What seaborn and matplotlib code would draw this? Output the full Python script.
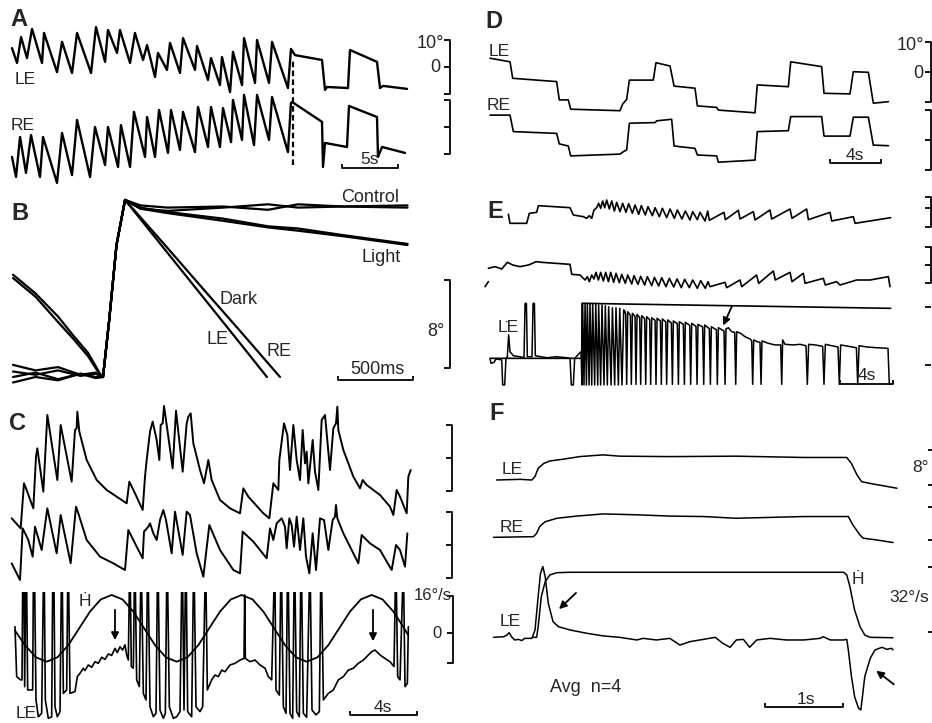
"""Nystagmus recordings, panels A-F, redrawn as line traces."""

import matplotlib
matplotlib.use("Agg")
import matplotlib.pyplot as plt
import seaborn as sns

W, H = 932, 723

# ──────────────────────────────────────────────────────────
# Data (time in s or ms, position in deg, velocity in deg/s)
# ──────────────────────────────────────────────────────────
A_LE_T = [1.07, 1.52, 1.88, 2.41, 2.86, 3.75, 3.93, 5.09, 5.54, 6.43, 6.88, 8.13, 8.57, 9.38, 9.64,
          10.45, 10.71, 11.61, 12.05, 12.77, 13.13, 13.84, 14.11, 14.91, 15.18, 16.07, 16.34, 17.41,
          17.59, 18.57, 18.84, 19.64, 19.82, 20.54, 20.80, 21.61, 21.79, 22.77, 22.95, 24.02, 24.29,
          25.71, 25.98, 26.34, 28.75, 29.02, 29.20, 31.07, 31.25, 33.66, 33.93, 34.20, 36.34]
A_LE = [7.0, 1.5, 11.1, 3.3, 14.1, 1.5, 12.6, -1.9, 9.3, -2.2, 12.6, -2.2, 14.8, 1.9, 13.7, 5.2,
        13.7, 1.5, 12.6, 2.6, 8.1, -3.7, 5.2, -1.1, 8.9, -2.2, 10.7, -1.1, 7.8, -4.8, 3.3, -6.7, 3.7,
        -9.3, 5.6, -6.7, 10.7, -5.9, 10.0, -5.9, 9.3, -7.8, 6.7, 4.4, 2.6, -8.5, -7.4, -7.8, 6.3, 1.9,
        -7.8, -7.0, -8.1]
A_RE_T = [1.07, 1.43, 1.79, 2.32, 2.77, 3.57, 3.84, 5.09, 5.54, 6.43, 6.88, 8.04, 8.48, 9.38, 9.64,
          10.54, 10.80, 11.61, 11.96, 12.95, 13.13, 13.84, 14.20, 15.00, 15.27, 16.07, 16.34, 17.41,
          17.68, 18.57, 18.84, 19.64, 19.91, 20.63, 20.80, 21.61, 21.79, 22.68, 22.95, 24.02, 24.29,
          25.71, 25.98, 26.07, 28.75, 28.84, 29.02, 30.98, 31.16, 33.66, 33.75, 34.11, 36.16]
A_RE = [-11.1, -18.5, -3.7, -17.0, -3.0, -18.5, -3.7, -20.7, -2.2, -17.8, 2.6, -18.5, 0.0, -14.1,
        0.0, -14.8, 0.7, -14.8, 5.6, -11.1, 3.7, -11.1, 6.3, -9.6, 6.3, -8.5, 5.6, -9.3, 7.4, -7.4,
        7.4, -7.4, 7.0, -5.6, 10.0, -4.8, 11.9, -6.7, 11.9, -4.8, 11.1, -9.3, 8.9, 9.3, 1.9, -14.8,
        -5.9, -7.4, 7.8, 3.7, -11.1, -7.4, -9.6]
A_SWITCH_T = 26.16

B_T = [-600, -450, -300, -150, -50, 0, 40, 90, 147, 250, 430, 800, 1100, 1300, 1600, 2030]
B_CTRL_LE = [1.1, 0.6, 0.9, 0.2, 0.4, 0.0, 5.0, 12.0, 16.1, 15.3, 15.1, 15.4, 15.7, 15.4, 15.5, 15.6]
B_CTRL_RE = [-0.5, 0.0, -0.3, 0.3, 0.0, 0.0, 5.0, 12.0, 16.1, 15.6, 15.4, 15.5, 15.2, 15.7, 15.5, 15.4]
B_LIGHT_LE = [0.5, 0.2, 0.6, 0.1, 0.3, 0.0, 5.0, 12.0, 16.1, 15.3, 14.9, 14.2, 13.6, 13.3, 12.8, 12.0]
B_LIGHT_RE = [0.0, 0.4, -0.2, 0.3, -0.1, 0.0, 5.0, 12.0, 16.1, 15.4, 15.0, 14.4, 13.7, 13.5, 12.9, 12.1]
B_DARK_LE_T = [-600, -450, -300, -200, -100, -20, 0, 40, 90, 147, 400, 700, 900, 1093]
B_DARK_LE = [9.3, 7.6, 5.5, 3.8, 2.2, 0.3, 0.0, 5.0, 12.0, 16.1, 11.8, 6.7, 3.3, 0.0]
B_DARK_RE_T = [-600, -450, -300, -200, -100, -20, 0, 40, 90, 147, 400, 700, 900, 1180]
B_DARK_RE = [9.0, 7.3, 5.0, 3.5, 1.9, 0.2, 0.0, 5.0, 12.0, 16.1, 12.2, 7.5, 4.4, 0.0]

C_LE_T = [0.70, 1.24, 1.44, 1.56, 2.00, 2.16, 2.24, 2.60, 2.84, 3.44, 3.64, 4.30, 4.50, 4.60, 4.64,
          4.76, 5.20, 5.80, 6.40, 7.00, 7.60, 7.76, 8.10, 8.56, 8.70, 8.80, 9.00, 9.16, 9.40, 9.56,
          9.64, 9.76, 9.84, 9.96, 10.36, 10.56, 10.96, 11.20, 11.30, 11.44, 11.60, 12.00, 12.24, 12.50,
          12.70, 13.20, 13.80, 14.40, 14.60, 14.90, 15.80, 16.16, 16.40, 16.70, 16.76, 17.04, 17.24,
          17.40, 17.60, 17.80, 18.00, 18.16, 18.30, 18.40, 18.50, 18.76, 18.90, 19.10, 19.30, 19.50,
          19.80, 20.00, 20.16, 20.24, 20.30, 20.60, 21.20, 21.60, 21.76, 22.00, 22.80, 23.40, 23.60,
          23.80, 24.00, 24.40, 24.50, 24.64]
C_LE = [-18.1, -21.1, -7.6, -9.1, -15.1, 0.4, 2.9, -10.1, 12.9, -6.6, 9.9, -7.1, 8.4, 8.9, 13.9, 7.9,
        -0.6, -6.6, -9.6, -11.6, -13.6, -7.1, -10.6, -15.6, -5.6, -0.6, 7.9, 10.9, 5.4, -0.6, 9.9,
        10.4, 15.6, 11.4, -3.1, 14.2, -4.1, 10.4, 12.4, 13.4, 4.4, -3.6, -7.6, -0.6, -6.6, -12.6,
        -15.1, -16.6, -9.1, -11.6, -16.6, -18.1, -7.6, -9.6, -0.6, 10.4, 6.9, -3.6, 9.9, -0.6, -6.6,
        8.4, -1.6, 1.9, -7.6, 5.4, -4.1, -9.6, 11.4, 12.9, -3.6, 8.9, 10.4, 15.4, 8.4, 2.4, -5.6,
        -9.1, -6.6, -8.1, -11.1, -14.6, -17.1, -9.6, -11.6, -16.6, -5.6, -3.6]
C_RE_T = [0.70, 1.20, 1.36, 1.70, 1.96, 2.10, 2.50, 2.84, 3.40, 3.64, 4.24, 4.56, 4.70, 5.20, 6.00,
          6.80, 7.50, 7.70, 8.20, 8.56, 8.64, 8.90, 9.00, 9.20, 9.40, 9.60, 9.80, 9.96, 10.30, 10.50,
          10.96, 11.20, 11.40, 11.80, 12.20, 12.56, 13.20, 14.00, 14.40, 14.56, 15.20, 16.00, 16.20,
          16.40, 16.60, 16.90, 17.10, 17.20, 17.36, 17.50, 17.64, 17.80, 18.00, 18.20, 18.36, 18.56,
          18.76, 18.96, 19.20, 19.44, 19.70, 19.96, 20.10, 20.16, 20.24, 20.60, 21.20, 21.50, 21.70,
          22.20, 22.80, 23.50, 23.76, 24.00, 24.30, 24.44]
C_RE = [-5.5, -10.5, 5.0, 1.5, -3.5, 5.5, -1.5, 11.0, -2.5, 9.0, -5.5, 11.5, 9.5, 1.5, -3.5, -5.5,
        -7.5, 4.5, -0.5, -4.0, 4.0, 5.5, 6.5, 3.5, 1.5, 7.5, 10.5, 7.5, -2.5, 10.0, -3.0, 10.0, 9.0,
        -2.5, -9.5, 6.0, -1.5, -7.5, -8.5, 4.0, 1.0, -4.0, 5.0, 1.5, 6.5, 8.0, 5.5, -1.0, 8.0, 6.0,
        -0.5, 8.5, -1.5, 8.0, -3.5, -8.5, 3.5, -7.5, 8.0, 7.5, -1.5, 7.5, 8.5, 12.0, 8.0, 3.5, -2.5,
        -5.5, 3.0, 0.5, -1.5, -7.5, 0.0, -1.5, -6.5, 3.5]
C_VEL_T = [0.90, 1.00, 1.24, 1.32, 1.36, 1.44, 1.48, 1.54, 1.60, 1.66, 1.96, 2.00, 2.08, 2.16, 2.30,
           2.50, 2.60, 2.66, 2.72, 2.90, 3.10, 3.16, 3.24, 3.30, 3.44, 3.60, 3.68, 3.74, 3.80, 4.00,
           4.06, 4.12, 4.20, 4.50, 4.64, 4.80, 5.00, 5.10, 5.30, 5.50, 5.70, 5.90, 6.10, 6.30, 6.50,
           6.70, 6.90, 7.04, 7.20, 7.36, 7.50, 7.60, 7.70, 7.76, 7.82, 7.88, 8.00, 8.06, 8.12, 8.20,
           8.36, 8.44, 8.50, 8.60, 8.76, 8.84, 8.90, 9.00, 9.20, 9.36, 9.44, 9.50, 9.60, 9.80, 9.92,
           10.00, 10.06, 10.16, 10.40, 10.60, 10.80, 10.90, 10.96, 11.04, 11.12, 11.18, 11.26, 11.50,
           11.60, 11.66, 11.76, 12.00, 12.16, 12.30, 12.36, 12.44, 12.70, 12.90, 13.10, 13.30, 13.50,
           13.80, 14.10, 14.40, 14.64, 14.68, 14.72, 15.00, 15.30, 15.60, 15.90, 16.10, 16.30, 16.44,
           16.50, 16.56, 16.76, 16.84, 16.90, 17.00, 17.16, 17.24, 17.30, 17.40, 17.56, 17.64, 17.70,
           17.80, 17.96, 18.04, 18.10, 18.20, 18.40, 18.56, 18.62, 18.72, 18.96, 19.16, 19.24, 19.30,
           19.40, 19.70, 20.00, 20.30, 20.60, 20.90, 21.20, 21.50, 21.80, 22.10, 22.30, 22.50, 22.80,
           23.10, 23.40, 23.64, 23.72, 23.78, 23.86, 24.00, 24.16, 24.22, 24.30, 24.44, 24.50]
C_VEL = [2.7, -18.7, -20.1, -20.1, 20, 20, -23.0, 20, 20, -24.4, -24.4, 20, 20, -28.7, -35.9, -34.4,
         20, 20, -28.7, -36.6, -35.9, 20, 20, -31.6, -35.9, -33.7, 20, 20, -25.9, -24.4, 20, 20,
         -25.9, -25.1, -18.7, -17.3, -15.1, -16.1, -13.7, -14.7, -12.3, -13.0, -10.4, -11.3, -9.0,
         -9.6, -6.6, -8.4, -5.9, -7.3, -5.1, -9.4, -11.6, 20, 20, -14.4, -15.1, 20, 20, -20.1, -23.0,
         20, 20, -25.9, -28.7, 20, 20, -31.6, -35.9, -34.4, 20, 20, -33.0, -36.6, -34.4, 20, 20,
         -31.6, -36.6, -35.9, -33.7, 20, 20, -33.0, 20, 20, -33.7, -35.9, 20, 20, -31.6, -33.7, -31.6,
         20, 20, -24.4, -20.1, -18.0, -18.7, -15.9, -16.6, -13.7, -13.0, -11.6, -10.9, 16.3, -10.9,
         -12.3, -11.6, -13.7, -15.1, -18.7, -20.1, 20, 20, -24.4, -26.6, 20, 20, -31.6, -34.4, 20, 20,
         -34.4, -36.6, 20, 20, -33.7, -35.9, 20, 20, -34.4, -36.1, 20, 20, -33.0, -35.1, -33.7, 20, 20,
         -28.7, -25.9, -24.4, -20.1, -18.7, -15.9, -15.1, -13.0, -11.6, -9.4, -8.0, -7.3, -9.4, -10.9,
         -12.3, -14.4, 20, 20, -18.7, -20.1, 20, 20, -23.0, -21.6, 2.7]
C_H_T = [0.90, 1.50, 2.15, 2.80, 3.45, 4.10, 4.75, 5.40, 6.05, 6.70, 7.35, 8.00, 8.65, 9.30, 9.95,
         10.60, 11.25, 11.90, 12.55, 13.20, 13.85, 14.50, 15.15, 15.80, 16.45, 17.10, 17.75, 18.40,
         19.05, 19.70, 20.35, 21.00, 21.65, 22.30, 22.95, 23.60, 24.25, 24.50]
C_H = [1.0, -5.2, -10.4, -12.3, -10.4, -5.2, 2.0, 9.2, 14.4, 16.3, 14.4, 9.2, 2.0, -5.2, -10.4, -12.3,
       -10.4, -5.2, 2.0, 9.2, 14.4, 16.3, 14.4, 9.2, 2.0, -5.2, -10.4, -12.3, -10.4, -5.2, 2.0, 9.2,
       14.4, 16.3, 14.4, 9.2, 2.0, -1.0]

D_LE_T = [1.58, 3.16, 3.37, 6.84, 7.05, 7.76, 7.95, 11.84, 12.05, 12.37, 12.58, 14.47, 14.68, 15.79,
          16.11, 17.76, 17.95, 19.47, 19.61, 22.50, 22.68, 25.13, 25.32, 27.76, 27.95, 30.00, 30.26,
          31.45, 31.84, 33.03]
D_LE = [4.6, 3.4, -2.1, -3.2, -9.3, -9.3, -12.4, -12.9, -10.7, -9.1, -2.7, -2.7, 3.1, 2.0, -4.7,
        -5.4, -11.3, -11.8, -12.7, -13.6, -4.3, -4.9, 3.4, 1.8, -7.1, -7.3, 0.1, -0.1, -10.4, -9.9]
D_RE_T = [1.58, 3.16, 3.42, 6.84, 7.05, 7.76, 7.95, 11.84, 12.11, 12.37, 12.58, 14.61, 14.74, 15.92,
          16.11, 17.76, 17.95, 19.47, 19.61, 22.50, 22.68, 25.13, 25.32, 27.76, 27.95, 30.00, 30.26,
          31.45, 31.84, 33.03]
D_RE = [8.3, 8.3, 2.8, 2.2, -1.3, -2.0, -5.3, -4.7, -3.9, -3.3, 5.6, 5.8, 6.4, 6.9, -2.0, -2.8,
        -5.0, -5.3, -7.4, -6.7, 2.8, 3.1, 7.8, 7.8, 1.3, 1.3, 7.6, 7.6, -1.7, -1.9]

E_LE_T = [2.88, 3.00, 4.25, 4.45, 5.00, 5.13, 7.50, 7.75, 8.50, 8.75, 8.95, 9.13, 9.30, 9.50, 9.65,
          9.80, 9.95, 10.10, 10.25, 10.45, 10.63, 10.83, 11.00, 11.25, 11.45, 11.70, 11.90, 12.18,
          12.38, 12.65, 12.85, 13.15, 13.35, 13.68, 13.88, 14.20, 14.43, 14.75, 15.00, 15.33, 15.55,
          15.90, 16.15, 16.50, 16.70, 17.05, 17.25, 17.63, 17.83, 17.95, 19.05, 19.15, 20.13, 20.25,
          21.25, 21.38, 22.50, 22.63, 24.00, 24.15, 25.25, 25.38, 27.00, 27.13, 28.75, 28.88, 31.55]
E_LE = [0.2, -2.5, -2.5, 0.5, 0.8, 2.8, 2.2, 0.0, -0.5, -1.0, -0.2, -1.0, 1.5, 2.2, 3.5, 2.0, 4.2,
        2.2, 4.5, 1.8, 4.2, 1.2, 3.8, 1.0, 3.5, 0.8, 3.4, 0.5, 3.0, 0.2, 2.8, 0.0, 2.5, -0.2, 2.2,
        -0.5, 2.0, -0.8, 1.8, -1.0, 1.5, -1.2, 1.2, -1.5, 1.0, -1.4, 0.8, -1.8, 1.2, -1.6, 0.8, -1.4,
        1.4, -1.2, 1.0, -1.5, 1.5, -1.2, 1.8, -1.0, 1.8, -1.4, 0.8, -1.8, -0.5, -2.5, -0.8]
E_RE_T = [1.38, 1.88, 2.38, 2.80, 3.20, 3.75, 4.38, 4.63, 4.95, 5.38, 7.50, 7.63, 8.25, 8.63, 8.80,
          8.95, 9.13, 9.30, 9.45, 9.63, 9.80, 10.00, 10.18, 10.38, 10.55, 10.78, 10.95, 11.20, 11.38,
          11.65, 11.83, 12.13, 12.30, 12.60, 12.80, 13.10, 13.30, 13.63, 13.83, 14.15, 14.38, 14.70,
          14.95, 15.28, 15.53, 15.85, 16.10, 16.45, 16.70, 17.05, 17.30, 17.65, 17.85, 18.00, 19.13,
          19.25, 20.25, 20.38, 21.50, 21.65, 22.75, 22.90, 24.00, 24.15, 25.00, 25.13, 26.50, 26.65,
          27.50, 27.75, 29.00, 30.00, 31.38, 31.50]
E_RE = [2.0, 2.5, 1.8, 3.8, 3.0, 2.5, 3.0, 3.4, 4.0, 3.8, 3.2, 0.2, 0.0, -1.5, -0.5, -2.0, 0.0, -1.2,
        0.8, -1.5, 0.8, -1.8, 0.8, -2.0, 0.8, -2.2, 0.5, -2.3, 0.2, -2.5, 0.0, -2.7, -0.2, -2.8, -0.4,
        -3.0, -0.5, -3.2, -0.7, -3.3, -0.8, -3.5, -1.0, -3.6, -1.2, -3.8, -1.3, -3.8, -1.5, -4.0, -1.7,
        -4.0, -2.0, -3.5, -2.2, -3.8, -1.5, -3.5, 0.0, -2.5, 1.2, -1.5, 0.8, -2.0, 0.5, -2.5, -1.0,
        -3.0, -2.0, -3.0, -1.5, -1.5, -0.5, -3.5]
E_RE_FRAG_T = [1.13, 1.38]
E_RE_FRAG = [-3.5, -2.0]

# LE velocity in E, stored in four stretches
E_VEL_PRE_T = [1.50, 1.58, 1.80, 1.95, 2.38, 2.45, 2.60, 2.70, 2.80, 2.90, 3.00, 3.25, 3.75, 4.05,
               4.13, 4.23, 4.30, 4.65, 4.73, 4.83, 4.90, 5.75, 6.50, 7.25, 7.50, 7.60, 7.75, 7.85,
               8.13, 8.33]
E_VEL_PRE = [0, -2.5, -2.0, -0.3, -0.8, -13.3, -13.3, 0, 0.8, 11.7, 3.3, 1.3, 0.8, 0.3, 27.5, 27.5,
             0.8, 0.8, 27.5, 27.5, 1.3, 0.3, 0.8, 0.3, 0, -13.3, -13.3, 0, 2.0, 3.3]
E_VEL_SAT_T = [8.40, 8.45, 8.55, 8.63, 8.73, 8.80, 8.93, 9.00, 9.13, 9.20, 9.35, 9.43, 9.58, 9.65,
               9.80, 9.90, 10.05, 10.15, 10.30, 10.40, 10.58, 10.68, 10.85, 10.95, 11.13, 11.23,
               11.40, 11.53]
E_VEL_SAT = [-13.3, 27.5, -13.3, 27.5, -13.3, 27.5, -13.3, 27.5, -13.3, 27.5, -13.3, 27.5, -13.3,
             26.7, -13.3, 26.7, -13.3, 26.3, -13.3, 25.8, -13.3, 25.3, -13.3, 25.3, -13.3, 25.0,
             -13.3, 24.2]
E_VEL_MID_T = [11.60, 11.68, 11.75, 11.83, 12.03, 12.10, 12.18, 12.38, 12.45, 12.53, 12.73, 12.80,
               12.88, 13.10, 13.18, 13.25, 13.48, 13.55, 13.63, 13.88, 13.95, 14.03, 14.28, 14.35,
               14.43, 14.68, 14.75, 14.83, 15.10, 15.18, 15.25, 15.55, 15.63, 15.70, 16.00, 16.08,
               16.15, 16.48, 16.55, 16.63, 16.95, 17.03, 17.10, 17.45, 17.53, 17.60, 17.95, 18.03,
               18.10, 18.48, 18.55, 18.63, 19.05, 19.13, 19.20]
E_VEL_MID = [23.7, 22.0, -13, 23.3, 21.5, -13, 22.5, 21.0, -13, 22.0, 20.3, -13, 21.3, 19.8, -13,
             20.8, 19.3, -13, 20.3, 19.0, -13, 20.0, 18.7, -13, 19.7, 18.2, -13, 19.2, 17.7, -13,
             18.7, 17.3, -13, 18.3, 17.0, -13, 18.0, 16.5, -13, 17.5, 16.0, -13, 17.0, 15.7, -13,
             16.7, 14.8, -13, 15.8, 14.3, -13, 15.3, 13.7, -13, 14.7]
E_VEL_END_T = [19.38, 19.63, 19.85, 19.93, 20.00, 20.30, 20.63, 21.00, 21.13, 21.20, 21.28, 21.55,
               21.75, 21.83, 21.90, 22.38, 22.88, 23.30, 23.38, 23.45, 23.63, 24.25, 24.75, 25.20,
               25.30, 25.40, 25.88, 26.45, 26.55, 26.65, 27.13, 27.60, 27.70, 27.80, 28.38, 28.98,
               29.08, 29.18, 29.75, 30.50, 31.35, 31.45]
E_VEL_END = [15.3, 13.3, 13.0, -13, 13.3, 12.5, 10.8, 9.7, 8.7, -13, 9.2, 8.3, 8.0, -13, 8.7, 7.5,
             6.7, 6.7, -13, 9.2, 7.0, 6.7, 7.0, 6.3, -13, 7.0, 6.7, 6.0, -13, 7.0, 6.3, 5.7, -13, 6.7,
             6.0, 5.3, -13, 6.3, 5.7, 5.3, 5.0, -13]
E_H_T = [1.50, 8.38, 8.40, 31.55]
E_H = [0.0, 0.0, 27.5, 25.0]

F_LE_T = [0.34, 0.64, 0.79, 0.83, 0.87, 0.94, 1.02, 1.19, 1.40, 1.70, 1.91, 2.55, 3.40, 4.26, 4.81,
          4.87, 4.94, 5.00, 5.11, 5.45]
F_LE = [0.0, 0.15, 0.0, 0.8, 2.7, 3.8, 4.4, 4.8, 5.4, 5.8, 5.5, 5.4, 5.5, 5.2, 5.2, 3.8, 1.2, -0.4,
        -0.8, -1.9]
F_RE_T = [0.30, 0.81, 0.85, 0.89, 0.96, 1.11, 1.36, 1.70, 2.13, 2.55, 2.98, 3.40, 3.83, 4.26, 4.83,
          4.89, 4.98, 5.02, 5.19, 5.40]
F_RE = [0.0, 0.15, 0.9, 2.5, 3.6, 4.4, 4.9, 5.4, 5.2, 4.9, 4.8, 4.4, 4.6, 4.8, 4.8, 2.8, 0.5, -0.2,
        -0.6, -1.2]
F_H_T = [0.81, 0.85, 0.87, 0.91, 0.96, 1.02, 1.11, 1.28, 4.77, 4.81, 4.85, 4.91, 4.98, 5.04, 5.11,
         5.40]
F_H = [0.0, 0.0, 5.2, 20.0, 27.4, 30.7, 31.8, 32.0, 32.0, 30.7, 24.9, 13.4, 5.2, 1.1, 0.0, -0.2]
F_VEL_T = [0.30, 0.43, 0.47, 0.50, 0.53, 0.57, 0.62, 0.66, 0.70, 0.79, 0.83, 0.87, 0.90, 0.93, 0.96,
           1.00, 1.06, 1.13, 1.28, 1.49, 1.70, 1.91, 2.13, 2.21, 2.38, 2.55, 2.68, 2.81, 2.98, 3.13,
           3.23, 3.32, 3.40, 3.49, 3.57, 3.66, 3.83, 4.04, 4.26, 4.47, 4.51, 4.60, 4.77, 4.81, 4.83,
           4.87, 4.91, 4.96, 4.99, 5.01, 5.04, 5.11, 5.17, 5.26, 5.32, 5.38, 5.40]
F_VEL = [0, 0.3, 1.1, 2.3, 0.3, -1.3, -1.0, -1.6, -0.5, -0.5, 3.6, 20.0, 31.5, 34.8, 29.8, 16.7, 7.7,
         5.2, 3.6, 2.0, 0.7, 0, -1.3, -0.5, -1.3, -0.5, -3.8, -2.1, -1.0, 0, -3.0, -4.9, -1.3, -1.0,
         -4.9, -1.3, -0.5, -1.3, -1.3, -0.5, 0.3, -1.3, -1.3, -1.0, -6.2, -19.3, -29.2, -34.9, -35.7,
         -29.2, -19.3, -10.3, -6.2, -4.9, -5.9, -5.4, -6.2]

# scale bars (values in the units of each panel)
A_BAR_S, A_DEG = 5, 10
B_BAR_MS, B_DEG = 500, 8
C_BAR_S, C_DEG, C_VEL_BAR = 4, 10, 16
D_BAR_S, D_DEG = 4, 10
E_BAR_S = 4
F_BAR_S, F_DEG, F_VEL_BAR = 1, 8, 32

# ──────────────────────────────────────────────────────────
# Layout: per panel box (px) and px-per-unit scales
# ──────────────────────────────────────────────────────────
A_BOX, A_X0, A_XS, A_YS = (0, 0, 470, 192), 0, 11.2, 2.7
B_BOX, B_X0, B_XS, B_Y0, B_YS = (0, 188, 470, 390), 103, 0.15, 377, 11
C_BOX, C_VBOX, C_XS, C_YS, C_VS = (0, 395, 470, 592), (0, 592, 470, 723), 16.667, 3.333, 2.333
D_BOX, D_X0, D_XS, D_YS = (470, 0, 932, 185), 470, 12.667, 3.0
E_BOX, E_X0, E_XS, E_YS, E_VS = (470, 188, 932, 395), 470, 13.333, 3.333, 2.0
F_BOX, F_X0, F_XS, F_YS, F_VS = (470, 405, 932, 723), 470, 78.33, 4.333, 2.033

sns.set_theme(style="white")
plt.rcParams["font.family"] = ["Liberation Sans", "DejaVu Sans"]

fig = plt.figure(figsize=(W / 100, H / 100), dpi=100)
fig.patch.set_facecolor("white")


def trace(box, x0, xs, y0, ys, x, y, lw, clip=False):
    """One trace on its own transparent axes laid over the panel box."""
    l, t, r, b = box
    ax = fig.add_axes([l / W, 1 - b / H, (r - l) / W, (b - t) / H])
    sns.lineplot(x=x, y=y, ax=ax, color="black", linewidth=lw, estimator=None, sort=False)
    ax.set_xlim((l - x0) / xs, (r - x0) / xs)
    ax.set_ylim((y0 - b) / ys, (y0 - t) / ys)
    ax.set_axis_off()
    ax.patch.set_visible(False)
    for ln in ax.lines:
        ln.set_clip_on(clip)
        ln.set_solid_joinstyle("round")
    return ax


# A
ax_a = trace(A_BOX, A_X0, A_XS, 67, A_YS, A_LE_T, A_LE, 1.7)
trace(A_BOX, A_X0, A_XS, 127, A_YS, A_RE_T, A_RE, 1.7)
ax_a.axvline(A_SWITCH_T, ymin=0.14, ymax=0.69, color="black", lw=1.6, ls=(0, (2.5, 1.5)))

# B
for bt, bv in [(B_T, B_CTRL_LE), (B_T, B_CTRL_RE), (B_T, B_LIGHT_LE), (B_T, B_LIGHT_RE),
               (B_DARK_LE_T, B_DARK_LE), (B_DARK_RE_T, B_DARK_RE)]:
    trace(B_BOX, B_X0, B_XS, B_Y0, B_YS, bt, bv, 1.6)

# C
trace(C_BOX, 0, C_XS, 458, C_YS, C_LE_T, C_LE, 1.4)
trace(C_BOX, 0, C_XS, 545, C_YS, C_RE_T, C_RE, 1.4)
trace(C_VBOX, 0, C_XS, 633, C_VS, C_VEL_T, C_VEL, 1.2, clip=True)
trace(C_VBOX, 0, C_XS, 633, C_VS, C_H_T, C_H, 1.3, clip=True)

# D
trace(D_BOX, D_X0, D_XS, 72, D_YS, D_LE_T, D_LE, 1.2)
trace(D_BOX, D_X0, D_XS, 140, D_YS, D_RE_T, D_RE, 1.2)

# E
trace(E_BOX, E_X0, E_XS, 215, E_YS, E_LE_T, E_LE, 1.2)
trace(E_BOX, E_X0, E_XS, 275, E_YS, E_RE_T, E_RE, 1.2)
trace(E_BOX, E_X0, E_XS, 275, E_YS, E_RE_FRAG_T, E_RE_FRAG, 1.2)
trace(E_BOX, E_X0, E_XS, 358.33, E_VS,
      E_VEL_PRE_T + E_VEL_SAT_T + E_VEL_MID_T + E_VEL_END_T,
      E_VEL_PRE + E_VEL_SAT + E_VEL_MID + E_VEL_END, 1.1)
trace(E_BOX, E_X0, E_XS, 358.33, E_VS, E_H_T, E_H, 1.2)

# F
trace(F_BOX, F_X0, F_XS, 480, F_YS, F_LE_T, F_LE, 1.1)
trace(F_BOX, F_X0, F_XS, 537.33, F_YS, F_RE_T, F_RE, 1.1)
trace(F_BOX, F_X0, F_XS, 637.33, F_VS, F_H_T, F_H, 1.1)
trace(F_BOX, F_X0, F_XS, 637.33, F_VS, F_VEL_T, F_VEL, 1.1)

# ──────────────────────────────────────────────────────────
# Overlay: labels, scale bars, arrows (pixel coordinates)
# ──────────────────────────────────────────────────────────
ov = fig.add_axes([0, 0, 1, 1])
ov.set_xlim(0, W)
ov.set_ylim(H, 0)
ov.set_axis_off()
ov.patch.set_visible(False)

K = dict(color="black", lw=1.3, solid_capstyle="butt")


def time_bar(x, y, length, tick=4):
    ov.plot([x, x, x + length, x + length], [y - tick, y, y, y - tick], **K)


def bracket(x, top, bottom, mids=(), w=6, spine=True):
    if spine:
        ov.plot([x - w, x, x, x - w], [top, top, bottom, bottom], **K)
    else:
        for yy in (top, bottom):
            ov.plot([x - w, x], [yy, yy], **K)
    for m in mids:
        ov.plot([x - w, x], [m, m], **K)


def label(x, y, s, size=13, weight="normal", ha="center"):
    ov.text(x, y, s, fontsize=size, fontweight=weight, ha=ha, va="center")


def arrow(tail, head):
    ov.annotate("", xy=head, xytext=tail,
                arrowprops=dict(arrowstyle="-|>", color="black", lw=1.3, mutation_scale=11))


LDOT = "L\u0307E"
HDOT = "\u1e22"
BIG = 17

# A
label(19, 19, "A", BIG, "bold")
label(25, 80, "LE", 12.5)
label(23, 125, "RE", 12.5)
time_bar(342, 168, A_BAR_S * A_XS)
label(370, 160, "5s", 12.5)
bracket(450, 67 - A_DEG * A_YS, 67 + A_DEG * A_YS, mids=[67])
bracket(450, 127 - A_DEG * A_YS, 127 + A_DEG * A_YS, mids=[127])
label(444, 44, "10°", ha="right")
label(440, 68, "0", ha="right")

# B
label(20, 213, "B", BIG, "bold")
label(370, 197, "Control")
label(381, 257, "Light")
label(239, 300, "Dark")
label(217, 340, "LE")
label(279, 351, "RE")
time_bar(338, 380, B_BAR_MS * B_XS)
label(377, 370, "500ms")
bracket(450, 368 - B_DEG * B_YS, 368)
label(436, 332, "8°")

# C
label(18, 424, "C", BIG, "bold")
bracket(452, 458 - C_DEG * C_YS, 458 + C_DEG * C_YS, mids=[458])
bracket(452, 545 - C_DEG * C_YS, 545 + C_DEG * C_YS, mids=[545])
bracket(453, 633 - C_VEL_BAR * C_VS, 663, mids=[633])
label(452, 595, "16°/s", 12, ha="right")
label(442, 633, "0", 12, ha="right")
label(85, 601, HDOT, 12.5)
label(26, 713, LDOT, 12.5)
arrow((115, 607), (115, 643))
arrow((373, 607), (373, 644))
time_bar(350, 715, C_BAR_S * C_XS)
label(383, 707, "4s", 12.5)

# D
label(494, 21, "D", BIG, "bold")
label(499, 51, "LE", 12.5)
label(499, 106, "RE", 12.5)
bracket(931, 72 - D_DEG * D_YS, 72 + D_DEG * D_YS, mids=[72])
bracket(931, 140 - D_DEG * D_YS, 140 + D_DEG * D_YS, mids=[140])
label(924, 45, "10°", ha="right")
label(923, 73, "0", ha="right")
time_bar(830, 163, D_BAR_S * D_XS)
label(855, 156, "4s", 12.5)

# E
label(495, 211, "E", BIG, "bold")
label(508, 327, LDOT, 12.5)
arrow((733, 304), (722, 328))
bracket(931, 197, 227, mids=[208])
bracket(931, 247, 283, mids=[265])
bracket(931, 307, 365, spine=False)
time_bar(840, 384, E_BAR_S * E_XS)
label(867, 376, "4s", 12.5)

# F
label(497, 413, "F", BIG, "bold")
label(512, 470, "LE", 12.5)
label(512, 527, "RE", 12.5)
label(858, 579, HDOT, 12.5)
label(510, 622, LDOT, 12.5)
label(586, 687, "Avg  n=4")
arrow((578, 591), (557, 611))
arrow((896, 686), (874, 669))
time_bar(765, 707, F_BAR_S * F_XS)
label(806, 699, "1s", 12.5)
bracket(932, 450, 450 + F_DEG * F_YS, spine=False, w=4)
bracket(932, 507, 540, spine=False, w=4)
bracket(932, 632 - F_VEL_BAR * F_VS, 632, spine=False, w=4)
label(929, 468, "8°", 12.5, ha="right")
label(929, 597, "32°/s", 12.5, ha="right")

fig.savefig("out.png", dpi=100, facecolor="white")
